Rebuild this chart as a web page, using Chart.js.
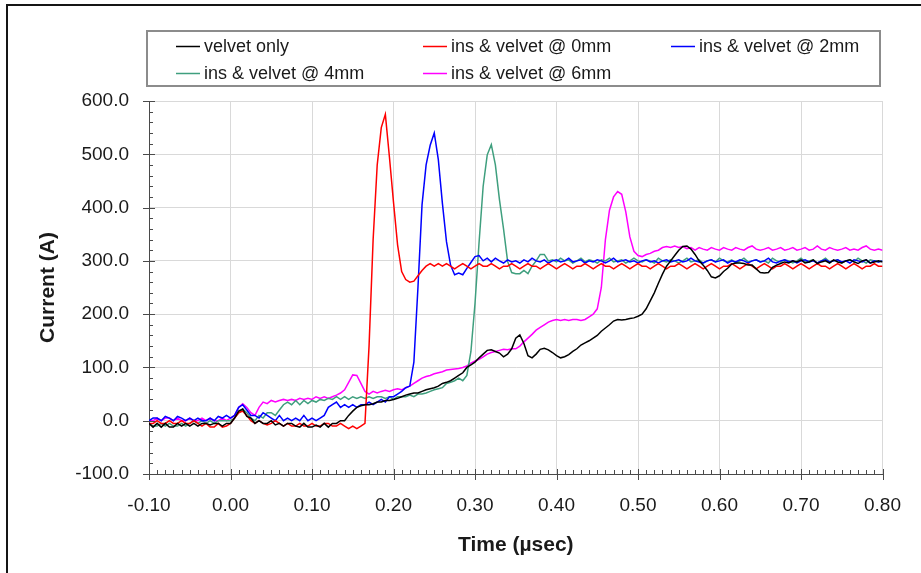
<!DOCTYPE html>
<html>
<head>
<meta charset="utf-8">
<script src="https://cdn.jsdelivr.net/npm/chart.js@4/dist/chart.umd.min.js"></script>
<style>
  body { margin: 0; background: #fff; overflow: hidden; }
  #wrap { position: relative; width: 921px; height: 573px; }
  #frame { position: absolute; left: 6px; top: 4px; width: 1000px; height: 1000px;
           border-left: 2px solid #151515; border-top: 2px solid #151515; pointer-events: none; }
</style>
</head>
<body>
<div id="wrap">
  <canvas id="currentChart" width="921" height="573"></canvas>
  <div id="frame"></div>
</div>
<script>
// DATA (time in usec, current in A)
const timeUs = [
  -0.100, -0.095, -0.090, -0.085, -0.080, -0.075, -0.070, -0.065, -0.060, -0.055,
  -0.050, -0.045, -0.040, -0.035, -0.030, -0.025, -0.020, -0.015, -0.010, -0.005,
  0.000, 0.005, 0.010, 0.015, 0.020, 0.025, 0.030, 0.035, 0.040, 0.045,
  0.050, 0.055, 0.060, 0.065, 0.070, 0.075, 0.080, 0.085, 0.090, 0.095,
  0.100, 0.105, 0.110, 0.115, 0.120, 0.125, 0.130, 0.135, 0.140, 0.145,
  0.150, 0.155, 0.160, 0.165, 0.170, 0.175, 0.180, 0.185, 0.190, 0.195,
  0.200, 0.205, 0.210, 0.215, 0.220, 0.225, 0.230, 0.235, 0.240, 0.245,
  0.250, 0.255, 0.260, 0.265, 0.270, 0.275, 0.280, 0.285, 0.290, 0.295,
  0.300, 0.305, 0.310, 0.315, 0.320, 0.325, 0.330, 0.335, 0.340, 0.345,
  0.350, 0.355, 0.360, 0.365, 0.370, 0.375, 0.380, 0.385, 0.390, 0.395,
  0.400, 0.405, 0.410, 0.415, 0.420, 0.425, 0.430, 0.435, 0.440, 0.445,
  0.450, 0.455, 0.460, 0.465, 0.470, 0.475, 0.480, 0.485, 0.490, 0.495,
  0.500, 0.505, 0.510, 0.515, 0.520, 0.525, 0.530, 0.535, 0.540, 0.545,
  0.550, 0.555, 0.560, 0.565, 0.570, 0.575, 0.580, 0.585, 0.590, 0.595,
  0.600, 0.605, 0.610, 0.615, 0.620, 0.625, 0.630, 0.635, 0.640, 0.645,
  0.650, 0.655, 0.660, 0.665, 0.670, 0.675, 0.680, 0.685, 0.690, 0.695,
  0.700, 0.705, 0.710, 0.715, 0.720, 0.725, 0.730, 0.735, 0.740, 0.745,
  0.750, 0.755, 0.760, 0.765, 0.770, 0.775, 0.780, 0.785, 0.790, 0.795,
  0.800
];

const velvetOnly = [
  -5, -12, -5, -12, -5, -12, -12, -5, -10, -5,
  -10, -5, -10, -5, -5, -8, -5, -5, -10, -5,
  -5, 5, 18, 22, 8, 5, -5, 0, -5, -5,
  0, -8, -5, -10, -5, -5, -10, -12, -5, -12,
  -12, -8, -12, -5, -12, -5, -5, 0, 0, 10,
  18, 25, 28, 30, 30, 32, 35, 35, 38, 38,
  40, 42, 45, 48, 50, 52, 52, 55, 58, 60,
  62, 65, 70, 72, 75, 80, 85, 90, 100, 105,
  110, 118, 125, 132, 133, 130, 127, 120, 125, 135,
  155, 161, 145, 122, 118, 125, 134, 136, 133, 128,
  122, 118, 120, 124, 130, 135, 142, 146, 150, 155,
  160, 168, 174, 180, 187, 190, 189, 190, 192, 193,
  196, 200, 210, 225, 240, 258, 275, 290, 300, 310,
  320, 327, 328, 322, 312, 300, 292, 282, 270, 268,
  272, 280, 286, 294, 296, 296, 295, 292, 292, 285,
  278, 277, 278, 288, 292, 295, 298, 296, 300, 298,
  302, 296, 298, 302, 295, 298, 300, 296, 302, 298,
  296, 300, 302, 298, 295, 300, 302, 296, 298, 300,
  298
];

const ins0mm = [
  -5, -5, 0, -5, -5, 0, -5, -5, 0, -5,
  -5, 0, -5, -10, -5, -12, -12, -5, -12, -10,
  -5, 5, 15, 18, 10, 0, -5, 0, -5, -8,
  -5, 0, -5, -10, -5, -10, -10, -5, -10, -10,
  -5, -10, -10, -5, -5, -10, -10, -5, -10, -15,
  -10, -15, -10, -5, 140, 340, 480, 550, 575, 495,
  410, 330, 280, 265, 260, 262, 272, 282, 290, 295,
  290, 295, 290, 295, 290, 285, 290, 295, 290, 285,
  290, 295, 290, 290, 295, 290, 285, 290, 290, 295,
  290, 285, 290, 295, 290, 290, 285, 290, 295, 290,
  285, 290, 295, 290, 285, 290, 290, 295, 290, 285,
  290, 295, 290, 290, 285, 290, 295, 290, 285, 290,
  295, 290, 290, 285, 290, 295, 290, 285, 290, 290,
  295, 290, 285, 290, 295, 290, 285, 290, 295, 290,
  285, 290, 290, 295, 290, 285, 290, 295, 290, 285,
  290, 295, 290, 285, 290, 290, 295, 290, 285, 290,
  295, 290, 285, 290, 295, 290, 290, 285, 290, 295,
  290, 285, 290, 295, 290, 285, 290, 290, 295, 290,
  290
];

const ins2mm = [
  0, 5, 5, 0, 8, 5, 0, 8, 5, 0,
  5, 0, 5, 0, 0, 5, 0, 8, 5, 10,
  5, 10, 25, 30, 20, 10, 10, 5, 15, 10,
  5, 0, 10, 0, 5, 0, 5, 0, 10, 0,
  5, 0, 5, 10, 25, 30, 35, 25, 30, 25,
  30, 25, 30, 30, 35, 30, 35, 40, 35, 45,
  45, 50, 55, 62, 65, 110, 250, 405, 480, 517,
  540, 490, 408, 336, 292, 274, 277, 274, 286, 297,
  308, 310, 300, 305, 298, 305, 300, 296, 302, 298,
  300, 296, 302, 298, 305, 300, 298, 302, 296, 300,
  302, 298, 300, 305, 298, 300, 302, 296, 300, 298,
  302, 300, 296, 300, 305, 298, 300, 302, 298, 300,
  296, 300, 302, 298, 300, 296, 300, 302, 298, 300,
  302, 298, 300, 305, 300, 298, 296, 300, 302, 298,
  300, 302, 296, 300, 298, 302, 300, 296, 300, 302,
  298, 300, 305, 298, 296, 300, 302, 298, 300, 296,
  300, 302, 298, 300, 296, 300, 302, 298, 300, 302,
  298, 300, 296, 302, 300, 298, 302, 296, 300, 298,
  300
];

const ins4mm = [
  -5, -10, -10, -5, -10, -5, -10, -10, -5, -10,
  -5, 0, -5, 0, -5, 0, -5, 0, 0, 0,
  0, 5, 15, 22, 15, 5, 0, 10, 5, 15,
  15, 10, 20, 30, 35, 30, 38, 30, 38, 32,
  38, 35, 40, 38, 42, 40, 45, 40, 45, 40,
  45, 42, 45, 42, 45, 42, 45, 45, 42, 45,
  40, 45, 45, 45, 48, 45, 50, 50, 52, 55,
  58, 60, 62, 70, 72, 75, 80, 75, 85, 130,
  220, 335, 440, 499, 518, 480, 415, 360, 299, 278,
  276, 276, 282, 276, 290, 300, 312, 312, 300, 302,
  298, 305, 300, 302, 296, 300, 305, 298, 302, 300,
  296, 302, 300, 305, 298, 300, 302, 296, 300, 305,
  300, 298, 302, 300, 296, 305, 300, 298, 302, 300,
  296, 300, 305, 298, 300, 302, 296, 300, 302, 298,
  305, 300, 298, 302, 296, 300, 305, 298, 300, 302,
  298, 300, 296, 305, 300, 298, 302, 300, 296, 300,
  305, 298, 300, 302, 296, 300, 305, 298, 300, 302,
  296, 300, 302, 298, 305, 300, 296, 302, 300, 298,
  300
];

const ins6mm = [
  0, 0, 5, 0, 5, 5, 0, 5, 0, 0,
  5, 0, 0, 5, 0, 5, 0, 0, 5, 0,
  5, 10, 25, 32, 25, 15, 10, 25, 35, 32,
  38, 35, 38, 40, 38, 40, 38, 42, 40, 42,
  40, 45, 42, 45, 42, 45, 48, 52, 58, 72,
  86, 85, 70, 55, 50, 55, 52, 55, 57, 55,
  58, 60, 58, 62, 65, 70, 75, 80, 83, 85,
  88, 90, 92, 95, 96, 97, 98, 100, 103, 108,
  112, 115, 120, 125, 128, 130, 132, 134, 133, 135,
  135, 140, 148, 155, 162, 170, 175, 180, 185, 188,
  190, 188, 190, 188, 190, 190, 188, 190, 195, 200,
  210, 250, 340, 395, 420, 430, 425, 392, 345, 318,
  310, 308, 312, 314, 318, 320, 325, 327, 325, 328,
  325, 327, 323, 325, 320, 325, 322, 320, 325, 322,
  320, 325, 322, 320, 325, 322, 320, 325, 328, 322,
  320, 322, 325, 320, 322, 325, 320, 322, 325, 320,
  322, 325, 320, 322, 328, 322, 320, 325, 322, 320,
  322, 325, 320, 322, 320, 325, 328, 322, 320, 322,
  320
];

const seriesLabels = ['velvet only', 'ins & velvet @ 0mm', 'ins & velvet @ 2mm', 'ins & velvet @ 4mm', 'ins & velvet @ 6mm'];
const seriesColors = ['#000000', '#ff0000', '#0000ff', '#3f9f7e', '#ff00ff'];
const seriesValues = [velvetOnly, ins0mm, ins2mm, ins4mm, ins6mm];

//HELPERS
const toPoints = (values) => values.map((v, i) => ({ x: timeUs[i], y: v }));

// legend drawn as a framed box above the plot, laid out in fixed columns
const boxLegend = {
  id: 'boxLegend',
  afterDraw(chart) {
    const { ctx } = chart;
    const slots = [[176, 46], [423, 46], [671, 46], [176, 73], [423, 73]];
    ctx.save();
    ctx.strokeStyle = '#8c8c8c';
    ctx.lineWidth = 2;
    ctx.strokeRect(147, 31, 733, 55);
    ctx.font = '18px "Liberation Sans", Arial, sans-serif';
    ctx.textBaseline = 'middle';
    ctx.fillStyle = '#1a1a1a';
    chart.data.datasets.forEach((ds, i) => {
      const [lx, ly] = slots[i];
      ctx.strokeStyle = ds.borderColor;
      ctx.lineWidth = 1.5;
      ctx.beginPath();
      ctx.moveTo(lx, ly + 0.5);
      ctx.lineTo(lx + 24, ly + 0.5);
      ctx.stroke();
      ctx.fillText(ds.label, lx + 28, ly + 1);
    });
    ctx.restore();
  }
};

// major ticks crossing the axes plus minor ticks inside the plot
const axisTicks = {
  id: 'axisTicks',
  afterDraw(chart) {
    const { ctx, chartArea, scales: { x, y } } = chart;
    ctx.save();
    ctx.strokeStyle = '#4a4a4a';
    ctx.lineWidth = 1;
    ctx.beginPath();
    for (let i = 0; i <= 90; i++) {
      const px = Math.round(x.getPixelForValue(-0.1 + i * 0.01)) + 0.5;
      const major = i % 10 === 0;
      ctx.moveTo(px, chartArea.bottom - (major ? 5 : 4));
      ctx.lineTo(px, chartArea.bottom + (major ? 6 : 0));
    }
    for (let i = 0; i <= 35; i++) {
      const py = Math.round(y.getPixelForValue(-100 + i * 20)) + 0.5;
      const major = i % 5 === 0;
      ctx.moveTo(chartArea.left - (major ? 6 : 0), py);
      ctx.lineTo(chartArea.left + (major ? 6 : 4), py);
    }
    ctx.stroke();
    ctx.restore();
  }
};

//CHART
const tickFont = { family: '"Liberation Sans", Arial, sans-serif', size: 19 };
const titleFont = { family: '"Liberation Sans", Arial, sans-serif', size: 21, weight: 'bold' };

new Chart(document.getElementById('currentChart').getContext('2d'), {
  type: 'line',
  data: {
    datasets: seriesValues.map((values, i) => ({
      label: seriesLabels[i],
      data: toPoints(values),
      borderColor: seriesColors[i],
      backgroundColor: seriesColors[i],
      borderWidth: 1.5,
      pointRadius: 0,
      tension: 0,
      fill: false
    }))
  },
  options: {
    responsive: false,
    animation: false,
    devicePixelRatio: 1,
    layout: { padding: { left: 0, right: 37, top: 101, bottom: 0 } },
    plugins: {
      legend: { display: false },
      tooltip: { enabled: false }
    },
    scales: {
      x: {
        type: 'linear',
        min: -0.1,
        max: 0.8,
        afterFit: (scale) => { scale.height = 99; },
        grid: { color: '#d9d9d9', drawTicks: false },
        border: { display: true, color: '#4a4a4a', width: 1 },
        ticks: {
          stepSize: 0.1,
          padding: 20,
          maxRotation: 0,
          autoSkip: false,
          color: '#1a1a1a',
          font: tickFont,
          callback: (v) => (Math.abs(v) < 1e-9 ? 0 : v).toFixed(2)
        },
        title: {
          display: true,
          text: 'Time (µsec)',
          color: '#1a1a1a',
          font: titleFont,
          padding: { top: 0, bottom: 15 }
        }
      },
      y: {
        min: -100,
        max: 600,
        afterFit: (scale) => { scale.width = 149; },
        grid: { color: '#d9d9d9', drawTicks: false },
        border: { display: true, color: '#4a4a4a', width: 1 },
        ticks: {
          stepSize: 100,
          padding: 20,
          color: '#1a1a1a',
          font: tickFont,
          callback: (v) => (Math.abs(v) < 1e-9 ? 0 : v).toFixed(1)
        },
        title: {
          display: true,
          text: 'Current (A)',
          color: '#1a1a1a',
          font: titleFont,
          padding: { top: 36, bottom: 0 }
        }
      }
    }
  },
  plugins: [boxLegend, axisTicks]
});
</script>
</body>
</html>
